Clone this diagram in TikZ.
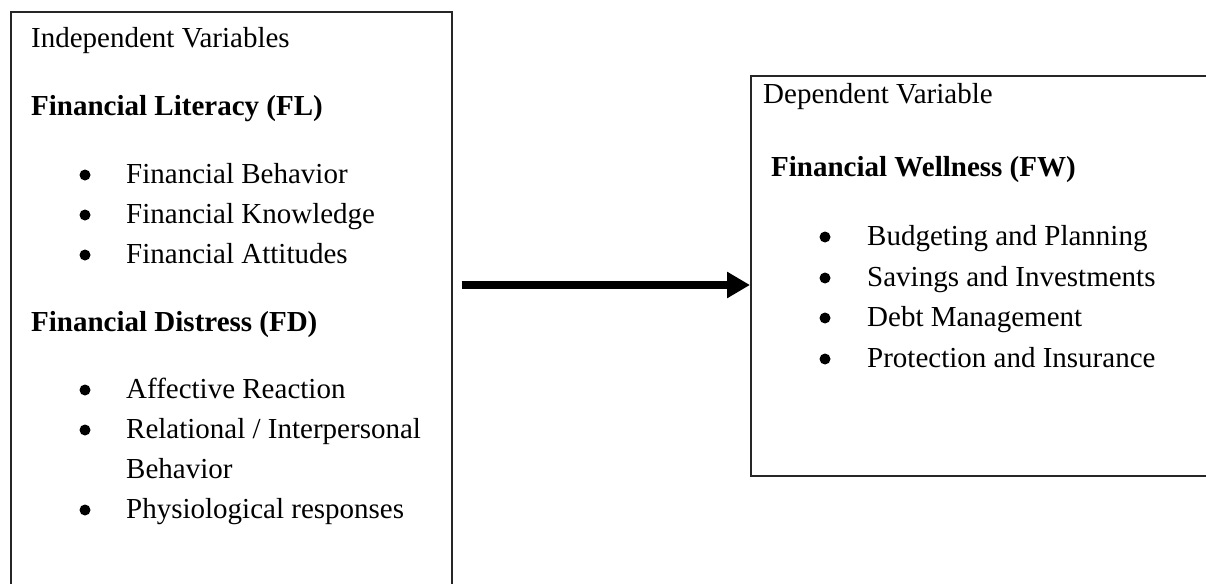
\documentclass[tikz,border=0pt]{standalone}
\usepackage{fontspec}
\setmainfont{Liberation Serif}
\usetikzlibrary{arrows.meta,calc}
\begin{document}
\begin{tikzpicture}[x=1pt,y=-1pt,
  txt/.style={anchor=base west, inner sep=0pt, font=\fontsize{29}{40}\selectfont},
  head/.style={txt, font=\fontsize{29}{40}\selectfont\bfseries},
  dot/.style={circle, fill=black, inner sep=0pt, minimum size=11pt},
  box/.style={draw=black!85, line width=1.6pt, rectangle, anchor=north west, inner sep=0pt},
  bigarrow/.style={line width=8pt, -{Triangle[length=23pt,width=25pt]}}]
\useasboundingbox (0,0) rectangle (1206,583);
\fill[white] (0,0) rectangle (1206,583);
% boxes
\node[box, minimum width=441pt, minimum height=640pt] (L) at (10,11) {};
\node[box, minimum width=480pt, minimum height=400pt] (R) at (750,75) {};
% left box texts
\node[txt] (l0) at (31,48) {Independent Variables};
\node[head] (l1) at (31,116) {Financial Literacy (FL)};
\node[dot] (lb1) at (85,175) {};
\node[txt] (l2) at (126,183) {Financial Behavior};
\node[dot] (lb2) at (85,215) {};
\node[txt] (l3) at (126,223) {Financial Knowledge};
\node[dot] (lb3) at (85,255) {};
\node[txt] (l4) at (126,263) {Financial Attitudes};
\node[head] (l5) at (31,331) {Financial Distress (FD)};
\node[dot] (lb4) at (85,390) {};
\node[txt] (l6) at (126,398) {Affective Reaction};
\node[dot] (lb5) at (85,430) {};
\node[txt] (l7) at (126,438) {Relational / Interpersonal};
\node[txt] (l8) at (126,478) {Behavior};
\node[dot] (lb6) at (85,510) {};
\node[txt] (l9) at (126,518) {Physiological responses};
% right box texts
\node[txt] (r0) at (763,104) {Dependent Variable};
\node[head] (r1) at (771,176) {Financial Wellness (FW)};
\node[dot] (rb1) at (825,237) {};
\node[txt] (r2) at (867,245) {Budgeting and Planning};
\node[dot] (rb2) at (825,278) {};
\node[txt] (r3) at (867,286) {Savings and Investments};
\node[dot] (rb3) at (825,318) {};
\node[txt] (r4) at (867,326) {Debt Management};
\node[dot] (rb4) at (825,359) {};
\node[txt] (r5) at (867,367) {Protection and Insurance};
% arrow
\coordinate (ay) at (0,285);
\draw[bigarrow] ($(L.east |- ay)+(9,0)$) -- (R.west |- ay);
\end{tikzpicture}
\end{document}
